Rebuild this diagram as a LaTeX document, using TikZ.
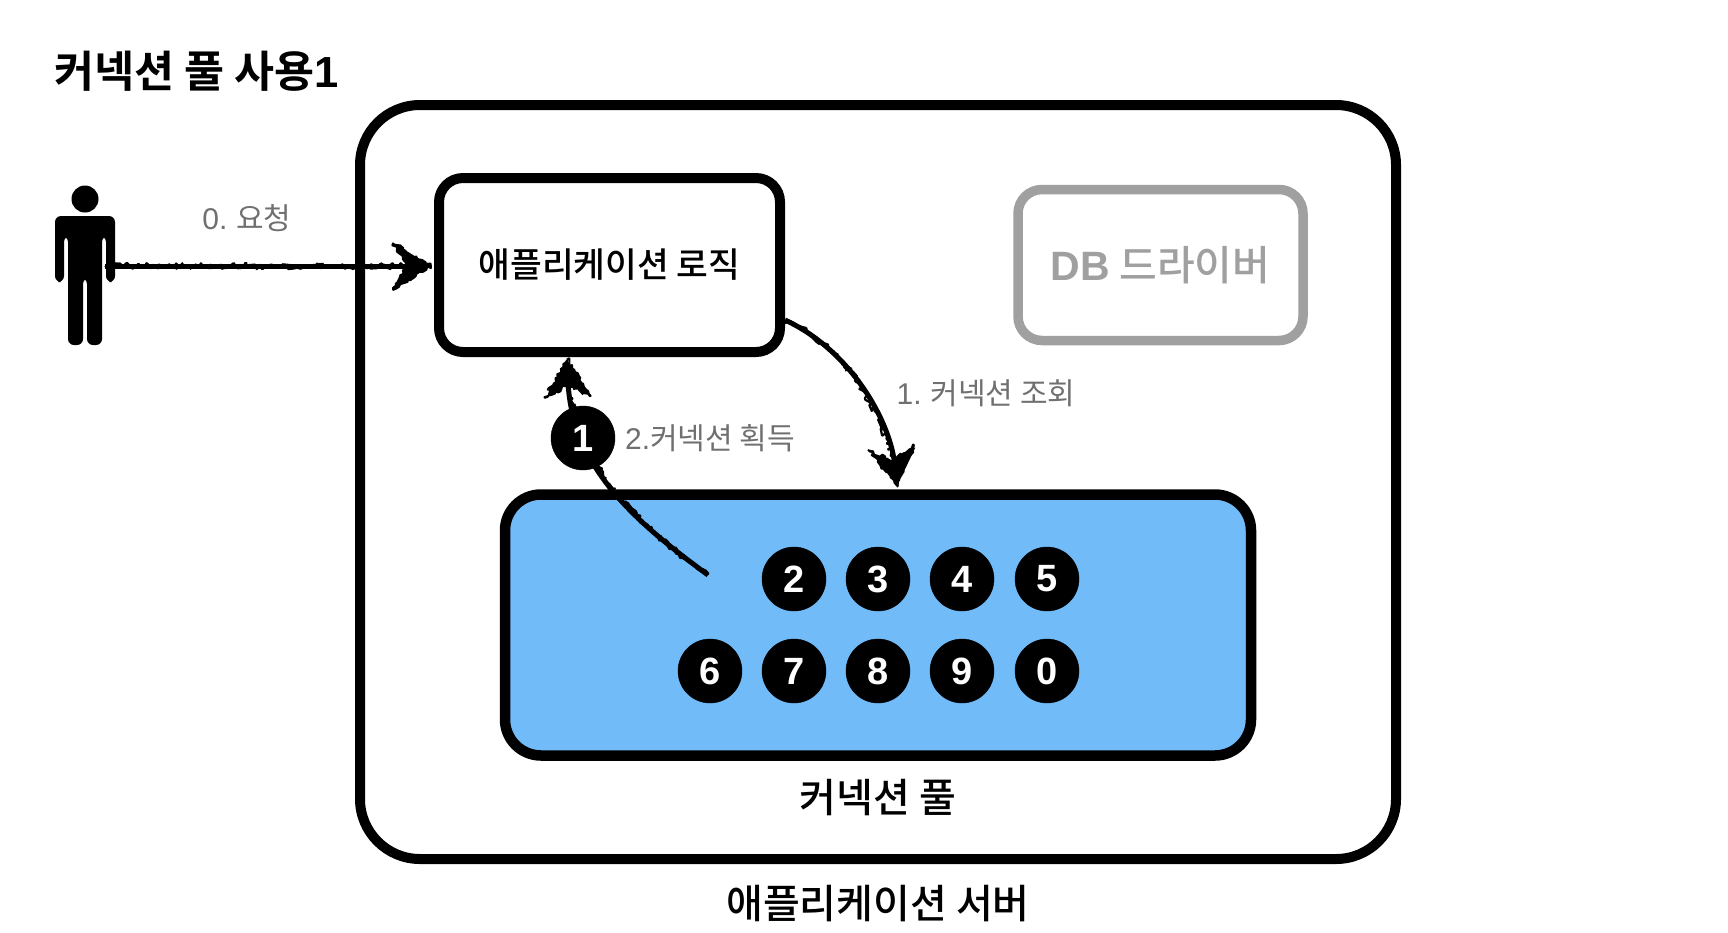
\documentclass[tikz,border=0pt]{standalone}
\usepackage{fontspec}
\setmainfont{Noto Sans CJK KR Medium}[BoldFont={Noto Sans CJK KR Bold}]
\newfontfamily\hangulreg{Noto Sans CJK KR}
\newfontfamily\latinfont{Liberation Sans}
\usetikzlibrary{arrows.meta,decorations.pathmorphing,shapes.misc}
\pgfmathsetseed{42}
\definecolor{poolblue}{HTML}{71BBF9}
\definecolor{dbgray}{HTML}{A0A0A0}
\definecolor{lblgray}{HTML}{707070}
\tikzset{
  box/.style={draw=black,rounded corners=#1,outer sep=0pt,inner sep=0pt,anchor=center},
  conn/.style={draw=black,circle,fill=black,text=white,minimum size=64pt,inner sep=0pt,font=\fontsize{38}{38}\selectfont\latinfont\bfseries},
  lbl/.style={text=lblgray,inner sep=0pt,font=\fontsize{30}{30}\selectfont\hangulreg},
  big/.style={text=black,inner sep=0pt,font=\fontsize{40}{40}\selectfont},
  hand/.style={line width=5pt,draw=black,
    -{Stealth[length=36pt,width=44pt,inset=13pt]},
    postaction={draw,-,line width=2.2pt,line join=bevel,decorate,decoration={random steps,segment length=2pt,amplitude=3.2pt}}},
  handhead/.style={line width=1.6pt,draw=black,fill=black,line join=bevel,decorate,decoration={random steps,segment length=2.5pt,amplitude=2.2pt}}
}
\begin{document}
\begin{tikzpicture}[x=1pt,y=-1pt]
\useasboundingbox (0,0) rectangle (1728,932);
\fill[white] (0,0) rectangle (1728,932);
% title
\node[anchor=west,inner sep=0pt,text=black,font=\fontsize{43.5}{43.5}\selectfont\bfseries] (title) at (54,71) {커넥션 풀 사용{\latinfont\bfseries 1}};
% outer server box
\node[box=60pt,line width=10pt,minimum width=1036pt,minimum height=754pt] (server) at (878,482) {};
\node[big] (serverlbl) at (878,904) {애플리케이션 서버};
% logic, db, pool
\node[box=24pt,line width=10pt,fill=white,minimum width=341pt,minimum height=174pt,text=black,font=\fontsize{34.5}{34.5}\selectfont] (logic) at (609.5,265) {애플리케이션 로직};
\node[box=24pt,line width=9.5pt,draw=dbgray,minimum width=285pt,minimum height=151pt,text=dbgray,font=\fontsize{41}{41}\selectfont] (db) at (1160.5,265) {{\latinfont\bfseries DB} 드라이버};
\node[box=36pt,line width=10.5pt,fill=poolblue,minimum width=746pt,minimum height=261pt] (pool) at (878,625) {};
\node[big] (poollbl) at (878,798) {커넥션 풀};
% person
\node[minimum width=60pt,minimum height=146pt,inner sep=0pt] (person) at (85,272) {};
\fill (85,199) circle (13.5);
\fill[rounded corners=6pt] (55,282) -- (55,216) -- (115,216) -- (115,282) -- (106,282) -- (106,236) -- (102,236) -- (102,345) -- (87,345) -- (87,278) -- (83,278) -- (83,345) -- (68,345) -- (68,236) -- (64,236) -- (64,282) -- cycle;
% labels
\node[lbl] (l0) at (247,218) {{\latinfont 0.} 요청};
\node[lbl] (l1) at (986,393) {{\latinfont 1.} 커넥션 조회};
\node[lbl] (l2) at (710,438) {{\latinfont 2.}커넥션 획득};
% connector ends
\coordinate (a0s) at (105,266);
\coordinate (a0e) at (431,266);
\coordinate (a1s) at (785,320);
\coordinate (a1e) at (897,486);
\coordinate (a2s) at (708,575);
\coordinate (a2e) at (567,360);
% connectors
\draw[hand] (a0s) -- (a0e);
\draw[hand] (a1s) .. controls (850,350) and (890,420) .. (a1e);
\draw[hand] (a2s) .. controls (640,525) and (572,470) .. (a2e);
% rough heads
\draw[handhead] (393,243) -- (a0e) -- (393,290) -- (407,266) -- cycle;
\draw[handhead] (868,450) -- (a1e) -- (914,445) -- (892,461) -- cycle;
\draw[handhead] (545,398) -- (a2e) -- (591,396) -- (568,385) -- cycle;
% connections
\node[conn] (c1) at (583,438) {1};
\node[conn] (c2) at (794,579) {2};
\node[conn] (c3) at (878,579) {3};
\node[conn] (c4) at (962,579) {4};
\node[conn] (c5) at (1047,579) {5};
\node[conn] (c6) at (710,671) {6};
\node[conn] (c7) at (794,671) {7};
\node[conn] (c8) at (878,671) {8};
\node[conn] (c9) at (962,671) {9};
\node[conn] (c0) at (1047,671) {0};
\end{tikzpicture}
\end{document}
